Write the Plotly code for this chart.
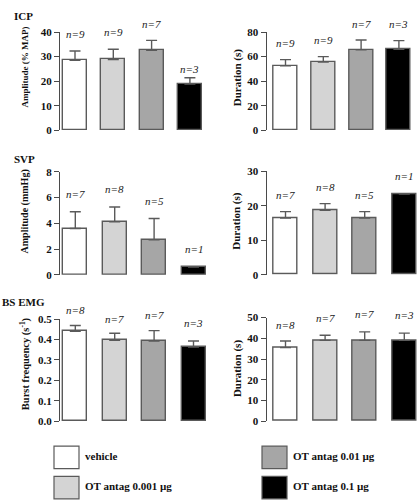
import plotly.graph_objects as go

W, H = 419, 500

groups = ["vehicle", "OT antag 0.001 µg", "OT antag 0.01 µg", "OT antag 0.1 µg"]
bar_colors = ["#ffffff", "#d4d4d4", "#a6a6a6", "#000000"]

# Panel data: means, SEM (upper only), n
icp_amp_mean = [28.5, 28.8, 32.6, 18.8]
icp_amp_sem = [3.8, 4.2, 4.0, 2.6]
icp_amp_n = ["9", "9", "7", "3"]

icp_dur_mean = [52.5, 55.5, 65.5, 66.0]
icp_dur_sem = [5.0, 4.5, 8.0, 7.0]
icp_dur_n = ["9", "9", "7", "3"]

svp_amp_mean = [3.6, 4.12, 2.72, 0.6]
svp_amp_sem = [1.3, 1.15, 1.65, None]
svp_amp_n = ["7", "8", "5", "1"]

svp_dur_mean = [16.4, 18.7, 16.4, 23.4]
svp_dur_sem = [1.9, 1.9, 1.9, None]
svp_dur_n = ["7", "8", "5", "1"]

bs_freq_mean = [0.44, 0.396, 0.392, 0.363]
bs_freq_sem = [0.028, 0.034, 0.051, 0.029]
bs_freq_n = ["8", "7", "7", "3"]

bs_dur_mean = [35.5, 39.0, 39.0, 39.0]
bs_dur_sem = [3.2, 2.5, 4.1, 3.5]
bs_dur_n = ["8", "7", "7", "3"]

y_titles = ["Amplitude (% MAP)", "Duration (s)", "Amplitude (mmHg)", "Duration (s)",
            "Burst frequency (s<sup>-1</sup>)", "Duration (s)"]
y_title_sizes = [9, 11, 10, 11, 10.5, 11]
y_ranges = [[0, 40], [0, 80], [0, 8], [0, 30], [0, 0.5], [0, 50]]
y_dticks = [10, 20, 2, 10, 0.1, 10]
y_formats = ["d", "d", "d", "d", ".1f", "d"]
section_titles = ["ICP", "SVP", "BS EMG"]

# label heights (data units) for the n= annotations
label_y = [
    [39.2, 40.1, 43.4, 25.1],
    [71.3, 73.4, 86.7, 86.7],
    [6.28, 6.66, 5.72, 2.0],
    [23.2, 25.4, 23.2, 28.7],
    [0.543, 0.50, 0.519, 0.479],
    [46.5, 49.7, 51.6, 51.2],
]

panels = [
    (icp_amp_mean, icp_amp_sem, icp_amp_n),
    (icp_dur_mean, icp_dur_sem, icp_dur_n),
    (svp_amp_mean, svp_amp_sem, svp_amp_n),
    (svp_dur_mean, svp_dur_sem, svp_dur_n),
    (bs_freq_mean, bs_freq_sem, bs_freq_n),
    (bs_dur_mean, bs_dur_sem, bs_dur_n),
]

# layout geometry in pixels: (axis x px, spacing px, first-center offset px, top px, bottom px)
geom = [
    (60.0, 38.3, 15.0, 26.7, 127.3),
    (266.5, 37.8, 19.0, 26.7, 127.3),
    (60.0, 39.4, 15.3, 170.0, 275.3),
    (266.5, 39.6, 19.0, 169.3, 275.3),
    (60.0, 39.4, 15.3, 320.7, 425.3),
    (266.5, 39.6, 19.0, 319.3, 425.3),
]

SERIF = "Liberation Serif"
fig = go.Figure()
annotations = []
shapes = []

for i, ((mean, sem, ns), (ax_px, sp, off, top, bot)) in enumerate(zip(panels, geom)):
    k = "" if i == 0 else str(i + 1)
    a = off / sp
    x_right_px = min(ax_px + (3 + 2 * a) * sp, W - 1)
    x_hi = -a + (x_right_px - ax_px) / sp
    xs = [0, 1, 2, 3]
    fig.add_trace(go.Bar(
        x=xs, y=mean,
        width=24.0 / sp,
        marker=dict(color=bar_colors, line=dict(color="#5a5a5a", width=1.4)),
        error_y=dict(type="data", symmetric=False,
                     array=[s if s is not None else float("nan") for s in sem],
                     arrayminus=[0] * 4, color="#5a5a5a", thickness=1.4, width=5.5),
        xaxis="x" + k, yaxis="y" + k, showlegend=False, hoverinfo="skip",
        cliponaxis=False,
    ))
    lo, hi = y_ranges[i]
    for j in range(4):
        annotations.append(dict(
            x=xs[j], xref="x" + k,
            y=(label_y[i][j] - lo) / (hi - lo), yref="y" + k + " domain",
            text="<i>n=" + ns[j] + "</i>", showarrow=False,
            font=dict(family=SERIF, size=11, color="#222"),
            xanchor="center", yanchor="middle",
        ))
    fig.update_layout(**{
        "xaxis" + k: dict(domain=[ax_px / W, x_right_px / W], range=[-a, x_hi],
                          visible=False, anchor="y" + k, fixedrange=True),
        "yaxis" + k: dict(domain=[1 - bot / H, 1 - top / H], range=y_ranges[i],
                          dtick=y_dticks[i], tickformat=y_formats[i],
                          anchor="x" + k, showline=True, linecolor="#4a4a4a",
                          linewidth=1, ticks="outside", ticklen=5, tickcolor="#4a4a4a",
                          showgrid=False, zeroline=False,
                          tickfont=dict(family=SERIF, size=11, color="#111", weight="bold"),
                          fixedrange=True),
    })

# y-axis titles (pixel positions)
title_pos = [(25, 63), (237, 74), (25, 210.5), (237, 221), (25, 367), (237, 372)]
for t, sz, (px, py) in zip(y_titles, y_title_sizes, title_pos):
    annotations.append(dict(
        x=px / W, y=1 - py / H, xref="paper", yref="paper", text="<b>" + t + "</b>",
        textangle=-90, showarrow=False, xanchor="center", yanchor="middle",
        font=dict(family=SERIF, size=sz, color="#111"),
    ))

# section titles
sec_pos = [(12, 10), (12, 157), (0, 303)]
for t, (px, py) in zip(section_titles, sec_pos):
    annotations.append(dict(
        x=px / W, y=1 - py / H, xref="paper", yref="paper", text="<b>" + t + "</b>",
        showarrow=False, xanchor="left", yanchor="middle",
        font=dict(family=SERIF, size=11, color="#111"),
    ))

# custom legend
leg_pos = [(54, 451), (54, 482), (262, 451), (262, 482)]
for g, c, (px, py) in zip(groups, bar_colors, leg_pos):
    shapes.append(dict(type="rect", xref="paper", yref="paper",
                       x0=px / W, x1=(px + 25) / W, y0=1 - (py + 23) / H, y1=1 - py / H,
                       fillcolor=c, line=dict(color="#5a5a5a", width=1.2)))
    annotations.append(dict(
        x=(px + 29) / W, y=1 - (py + 10) / H, xref="paper", yref="paper",
        text="<b>" + g + "</b>", showarrow=False, xanchor="left", yanchor="middle",
        font=dict(family=SERIF, size=11, color="#111"),
    ))

fig.update_layout(
    width=W, height=H, margin=dict(l=0, r=0, t=0, b=0),
    paper_bgcolor="white", plot_bgcolor="white",
    annotations=annotations, shapes=shapes, bargap=0,
)

fig.write_html("out.html", config={"displayModeBar": False},
               post_script="document.body.style.margin='0px';document.body.style.padding='0px';")
